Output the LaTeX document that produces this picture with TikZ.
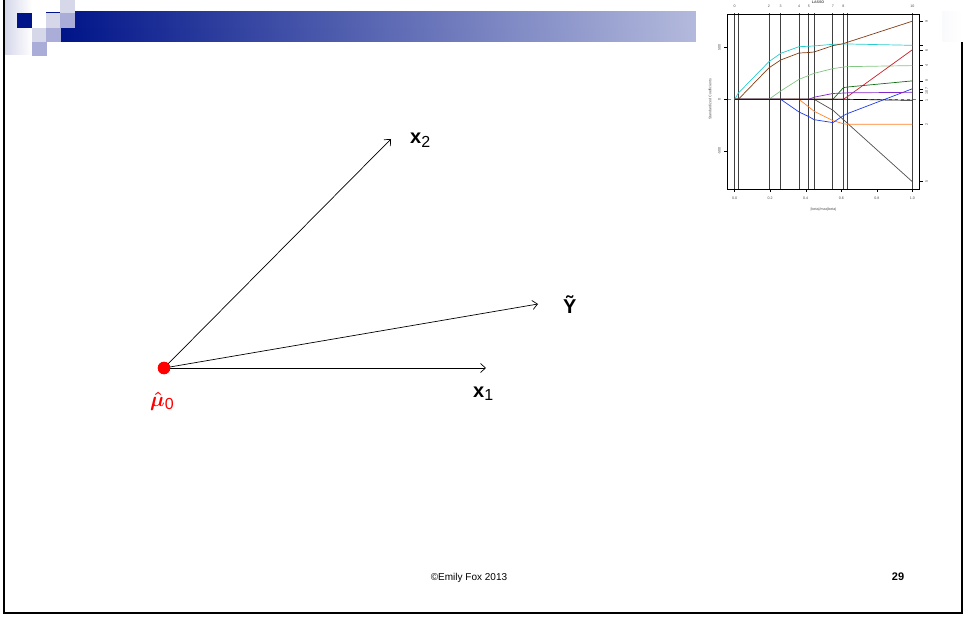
\documentclass[tikz,border=0pt]{standalone}
\usepackage{amsmath}
\usepackage{amssymb}
\usepackage{fontspec}
\setmainfont{Liberation Sans}
\usepackage{tikz}
\usetikzlibrary{arrows.meta}
\definecolor{slide_navy}{RGB}{0,20,137}
\definecolor{slide_light}{RGB}{214,216,234}
\definecolor{slide_mid}{RGB}{169,173,216}
\definecolor{path_cyan}{RGB}{40,205,205}
\definecolor{path_brown}{RGB}{130,60,20}
\definecolor{path_lgreen}{RGB}{130,200,130}
\definecolor{path_dgreen}{RGB}{20,110,20}
\definecolor{path_red}{RGB}{200,30,40}
\definecolor{path_purple}{RGB}{130,40,200}
\definecolor{path_blue}{RGB}{30,60,230}
\definecolor{path_orange}{RGB}{255,130,40}
\definecolor{path_grey}{RGB}{80,80,80}
\newcommand{\vecname}[2]{{\bfseries #1}\raisebox{-0.3ex}{\fontsize{16bp}{16bp}\selectfont #2}}
\tikzset{
    frame_line/.style = {
        draw=black,
        line width=1.3pt
    },
    vec_line/.style = {
        draw=black,
        line width=0.7pt,
        >={Straight Barb[length=5bp, width=9bp]}
    },
    point/.style = {
        circle,
        draw=red,
        fill=red,
        inner sep=0pt,
        minimum size=12bp
    },
    vec_label/.style = {
        anchor=base west,
        inner sep=0pt,
        font=\fontsize{20bp}{24bp}\selectfont
    },
    foot_label/.style = {
        anchor=base,
        inner sep=0pt
    },
    plot_box/.style = {
        draw=black,
        line width=0.5pt
    },
    plot_step/.style = {
        draw=black!75,
        line width=0.9pt
    },
    plot_path/.style = {
        line width=0.7pt
    },
    plot_text/.style = {
        inner sep=0pt,
        text=black!70,
        font=\fontsize{3.6bp}{4bp}\selectfont
    },
}
\begin{document}
\begin{tikzpicture}[x=1bp, y=-1bp]
                \useasboundingbox (0,0) rectangle (965,619);
                % header
                \begin{scope}
                    \path[left color=slide_light, right color=white] (5,0) rectangle (32,55);
                    \path[left color=slide_navy, right color=white] (61,28) rectangle (962,42);
                    \path[left color=slide_navy!98!white, right color=white] (75,12) rectangle (962,28);
                    \path[fill=slide_navy] (46,12) rectangle (60,13);
                    \path[fill=slide_navy] (17,13) rectangle (32,28);
                    \path[fill=slide_light] (46,13) rectangle (60,28);
                    \path[fill=slide_light] (60,0) rectangle (75,13);
                    \path[fill=slide_mid] (60,13) rectangle (75,28);
                    \path[fill=slide_light] (32,28) rectangle (46,42);
                    \path[fill=slide_mid] (46,28) rectangle (61,42);
                    \path[fill=slide_mid] (32,42) rectangle (47,56);
                \end{scope}

                % slide frame
                \path[frame_line] (4,0) -- (4,613) -- (962,613) -- (962,42);

                % lasso path picture
                \begin{scope}
                    \clip (696,0) rectangle (942,215);
                    \path[fill=white] (696,0) rectangle (942,215);
                    \begin{scope}[shift={(734.7,99.3)}]
                    \begin{scope}[x=177.6bp, y=0.104bp]
                        \path[plot_step] (0,-865) -- (0,832);
                        \path[plot_step] (0.0206,-865) -- (0.0206,832);
                        \path[plot_step] (0.193,-865) -- (0.193,832);
                        \path[plot_step] (0.259,-865) -- (0.259,832);
                        \path[plot_step] (0.362,-865) -- (0.362,832);
                        \path[plot_step] (0.418,-865) -- (0.418,832);
                        \path[plot_step] (0.447,-865) -- (0.447,832);
                        \path[plot_step] (0.553,-865) -- (0.553,832);
                        \path[plot_step] (0.612,-865) -- (0.612,832);
                        \path[plot_step] (0.634,-865) -- (0.634,832);
                        \path[plot_step] (1,-865) -- (1,832);
                        \path[draw=black!50, dashed, line width=0.4pt] (-0.0394,0) -- (1.0394,0);

                        \path[plot_path, draw=path_grey] (0,0) -- (0.447,0) -- (0.553,-105) -- (1,-792);
                        \path[plot_path, draw=path_orange] (0,0) -- (0.362,0) -- (0.418,-75) -- (0.447,-115) -- (0.553,-205) -- (0.612,-235) -- (0.634,-240) -- (1,-240);
                        \path[plot_path, draw=path_blue] (0,0) -- (0.259,0) -- (0.362,-122) -- (0.418,-167) -- (0.447,-196) -- (0.553,-224) -- (0.612,-157) -- (0.634,-138) -- (1,101);
                        \path[plot_path, draw=path_lgreen] (0,0) -- (0.193,0) -- (0.259,80) -- (0.362,192) -- (0.418,230) -- (0.447,250) -- (0.553,295) -- (0.612,310) -- (0.634,314) -- (1,324);
                        \path[plot_path, draw=path_cyan] (0,0) -- (0.0206,60) -- (0.193,362) -- (0.259,442) -- (0.362,506) -- (0.418,510) -- (0.447,513) -- (0.553,529) -- (0.612,531) -- (0.634,532) -- (1,519);
                        \path[plot_path, draw=path_brown] (0,0) -- (0.0206,0) -- (0.193,303) -- (0.259,378) -- (0.362,445) -- (0.418,450) -- (0.447,455) -- (0.553,516) -- (0.612,535) -- (0.634,548) -- (1,751);
                        \path[plot_path, draw=path_red] (0,0) -- (0.612,0) -- (0.634,25) -- (1,476);
                        \path[plot_path, draw=path_dgreen] (0,0) -- (0.553,0) -- (0.612,112) -- (0.634,118) -- (1,177);
                        \path[plot_path, draw=path_purple] (0,0) -- (0.418,0) -- (0.447,20) -- (0.553,56) -- (0.612,60) -- (0.634,62) -- (1,67);
                        \path[plot_path, draw=black] (0,0) -- (0.634,0) -- (1,-10);

                        \path[plot_box] (-0.0394,-865) rectangle (1.0394,817);

                        % top axis
                        \node[plot_text] (top_0) at (0,897) {0};
                        \node[plot_text] (top_2) at (0.193,897) {2};
                        \node[plot_text] (top_3) at (0.259,897) {3};
                        \node[plot_text] (top_4) at (0.362,897) {4};
                        \node[plot_text] (top_5) at (0.418,897) {5};
                        \node[plot_text] (top_7) at (0.553,897) {7};
                        \node[plot_text] (top_8) at (0.612,897) {8};
                        \node[plot_text] (top_10) at (1,897) {10};
                        \node[plot_text] (plot_title) at (0.469,935) {\bfseries LASSO};

                        % bottom axis
                        \path[plot_box] (0,-865) -- (0,-890);
                        \path[plot_box] (0.2,-865) -- (0.2,-890);
                        \path[plot_box] (0.4,-865) -- (0.4,-890);
                        \path[plot_box] (0.6,-865) -- (0.6,-890);
                        \path[plot_box] (0.8,-865) -- (0.8,-890);
                        \path[plot_box] (1,-865) -- (1,-890);
                        \node[plot_text] (bot_0) at (0,-952) {0.0};
                        \node[plot_text] (bot_2) at (0.2,-952) {0.2};
                        \node[plot_text] (bot_4) at (0.4,-952) {0.4};
                        \node[plot_text] (bot_6) at (0.6,-952) {0.6};
                        \node[plot_text] (bot_8) at (0.8,-952) {0.8};
                        \node[plot_text] (bot_10) at (1,-952) {1.0};
                        \node[plot_text] (x_title) at (0.5,-1058) {|beta|/max|beta|};

                        % left axis
                        \path[plot_box] (-0.0394,500) -- (-0.058,500);
                        \path[plot_box] (-0.0394,0) -- (-0.058,0);
                        \path[plot_box] (-0.0394,-500) -- (-0.058,-500);
                        \node[plot_text, rotate=90] (left_500) at (-0.0867,500) {500};
                        \node[plot_text, rotate=90] (left_0) at (-0.0867,0) {0};
                        \node[plot_text, rotate=90] (left_m500) at (-0.0867,-500) {-500};
                        \node[plot_text, rotate=90] (y_title) at (-0.139,0) {Standardized Coefficients};

                        % right axis
                        \path[plot_box] (1.0394,751) -- (1.0585,751);
                        \path[plot_box] (1.0394,519) -- (1.0585,519);
                        \path[plot_box] (1.0394,476) -- (1.0585,476);
                        \path[plot_box] (1.0394,324) -- (1.0585,324);
                        \path[plot_box] (1.0394,177) -- (1.0585,177);
                        \path[plot_box] (1.0394,101) -- (1.0585,101);
                        \path[plot_box] (1.0394,67) -- (1.0585,67);
                        \path[plot_box] (1.0394,-10) -- (1.0585,-10);
                        \path[plot_box] (1.0394,-240) -- (1.0585,-240);
                        \path[plot_box] (1.0394,-792) -- (1.0585,-792);
                        \node[plot_text, rotate=90] (right_9) at (1.081,751) {9};
                        \node[plot_text, rotate=90] (right_6) at (1.081,466) {6};
                        \node[plot_text, rotate=90] (right_4) at (1.081,324) {4};
                        \node[plot_text, rotate=90] (right_8) at (1.081,177) {8};
                        \node[plot_text, rotate=90] (right_7) at (1.081,104) {7};
                        \node[plot_text, rotate=90] (right_10) at (1.081,68) {10};
                        \node[plot_text, rotate=90] (right_1) at (1.081,-10) {1};
                        \node[plot_text, rotate=90] (right_2) at (1.081,-240) {2};
                        \node[plot_text, rotate=90] (right_5) at (1.081,-792) {5};
                    \end{scope}
                    \end{scope}
                \end{scope}

                % vectors
                \node[point] (mu0) at (164,368) {};
                \coordinate (x1_tip) at (486,368);
                \coordinate (x2_tip) at (391,139);
                \coordinate (y_tip) at (538,304);
                \draw[->, vec_line] (mu0.center) -- (x2_tip);
                \draw[->, vec_line] (mu0.center) -- (y_tip);
                \draw[->, vec_line] (mu0.center) -- (x1_tip);
                \node[point] at (mu0) {};

                \node[vec_label] (x1_label) at (473,397) {\vecname{x}{1}};
                \node[vec_label] (x2_label) at (410,144) {\vecname{x}{2}};
                \node[vec_label] (y_label) at (563,313) {\bfseries Ỹ};
                \node[vec_label, text=red, font=\fontsize{22bp}{24bp}\selectfont] (mu0_label) at (150,406) {$\boldsymbol{\hat{\mu}}$\raisebox{-0.3ex}{\fontsize{16bp}{16bp}\selectfont 0}};

                % footer
                \node[foot_label, font=\fontsize{10bp}{12bp}\selectfont] (foot_text) at (469,580) {©Emily Fox 2013};
                \node[foot_label, font=\fontsize{11bp}{12bp}\selectfont\bfseries] (page_num) at (898,580) {29};
            \end{tikzpicture}
\end{document}
